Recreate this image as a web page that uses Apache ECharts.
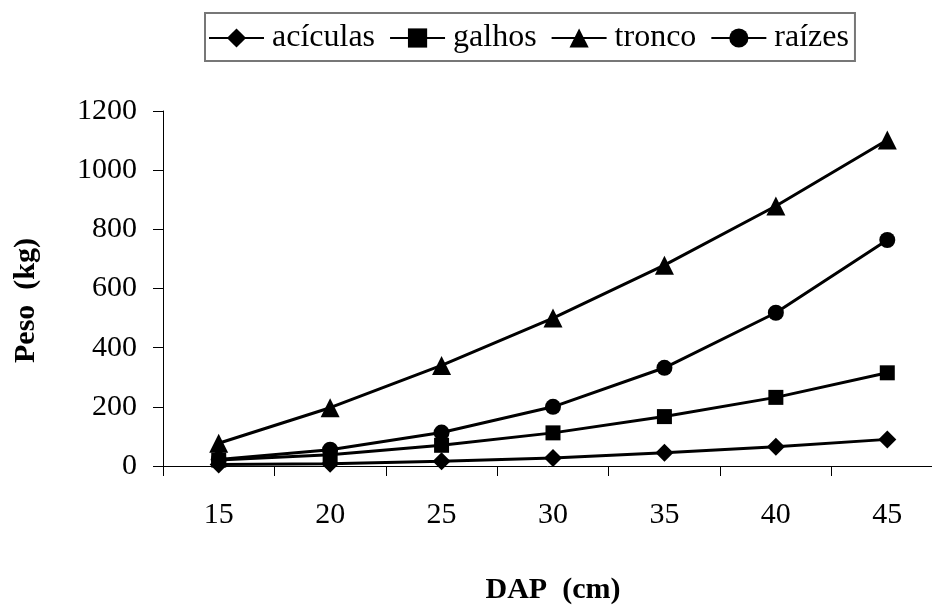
<!DOCTYPE html>
<html>
<head>
<meta charset="utf-8">
<script src="https://cdn.jsdelivr.net/npm/echarts@6/dist/echarts.min.js"></script>
<style>
  html, body { margin: 0; padding: 0; background: #fff; }
  #chart { width: 932px; height: 605px; }
</style>
</head>
<body>
<div id="chart"></div>
<script>
// DAP classes (cm)
const categories = ['15', '20', '25', '30', '35', '40', '45'];

// Dry weight per component (kg)
const aciculas = [5, 8, 16, 27, 45, 65, 90];
const galhos   = [20, 38, 70, 112, 167, 232, 315];
const tronco   = [77, 197, 340, 500, 679, 879, 1102];
const raizes   = [22, 55, 113, 200, 332, 518, 764];

const FONT = "'Liberation Serif', 'Times New Roman', serif";

function lineSeries(name, data, symbol, size) {
  return {
    name: name,
    type: 'line',
    data: data,
    symbol: symbol,
    symbolSize: size,
    showAllSymbol: true,
    lineStyle: { color: '#000', width: 3 },
    itemStyle: { color: '#000' },
    emphasis: { disabled: true },
    animation: false
  };
}

const chart = echarts.init(document.getElementById('chart'), null, { renderer: 'canvas' });
chart.setOption({
  backgroundColor: '#fff',
  animation: false,
  textStyle: { fontFamily: FONT, color: '#000' },
  legend: {
    left: 205,
    top: 13,
    padding: [9, 6, 7, 3],
    itemGap: 14,
    itemWidth: 55,
    itemHeight: 24,
    borderColor: '#777',
    borderWidth: 2,
    textStyle: { fontFamily: FONT, fontSize: 32, color: '#000', padding: [0, 0, 0, 3] },
    data: ['acículas', 'galhos', 'tronco', 'raízes']
  },
  // the category axis runs a little past the right edge of the canvas
  grid: { left: 163, top: 111, width: 780, height: 355, outerBoundsMode: 'none', containLabel: false },
  xAxis: {
    type: 'category',
    data: categories,
    boundaryGap: true,
    name: 'DAP  (cm)',
    nameLocation: 'middle',
    nameGap: 109,
    nameTextStyle: { fontFamily: FONT, fontSize: 30, fontWeight: 'bold', color: '#000' },
    axisLine: { lineStyle: { color: '#000', width: 1 } },
    axisTick: { show: true, length: 10, lineStyle: { color: '#000' } },
    axisLabel: { margin: 34, fontFamily: FONT, fontSize: 30, color: '#000' },
    splitLine: { show: false }
  },
  yAxis: {
    type: 'value',
    min: 0,
    max: 1200,
    interval: 200,
    name: 'Peso  (kg)',
    nameLocation: 'middle',
    nameGap: 122,
    nameTextStyle: { fontFamily: FONT, fontSize: 30, fontWeight: 'bold', color: '#000', padding: [0, 24, 0, 0] },
    axisLine: { show: true, lineStyle: { color: '#000', width: 1 } },
    axisTick: { show: true, length: 10, lineStyle: { color: '#000' } },
    axisLabel: { margin: 26, fontFamily: FONT, fontSize: 30, color: '#000', formatter: v => String(v) },
    splitLine: { show: false }
  },
  series: [
    lineSeries('acículas', aciculas, 'diamond', 18),
    lineSeries('galhos', galhos, 'rect', 15),
    lineSeries('tronco', tronco, 'triangle', 19),
    lineSeries('raízes', raizes, 'circle', 16)
  ]
});
</script>
</body>
</html>
